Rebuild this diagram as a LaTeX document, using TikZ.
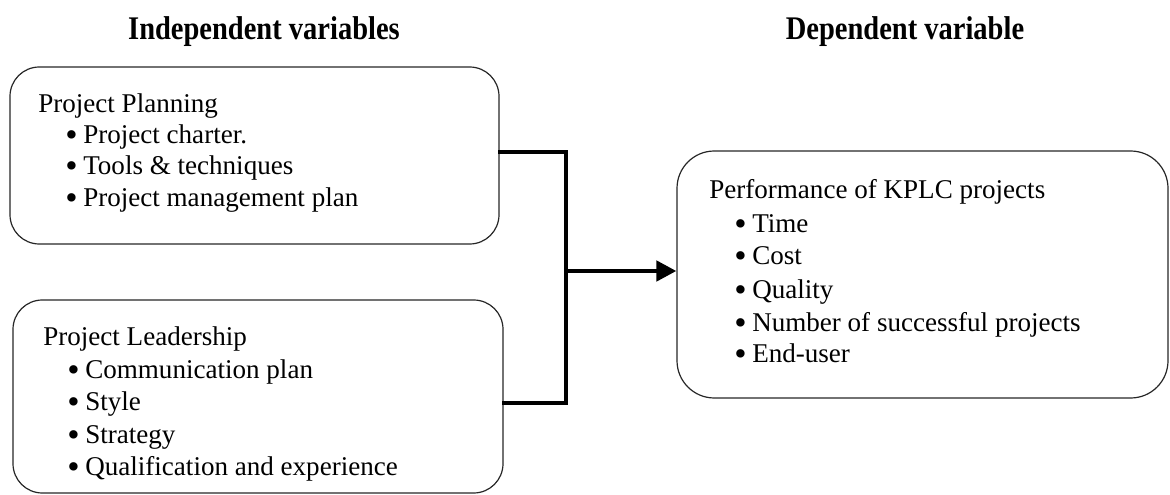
\documentclass[tikz,border=0pt]{standalone}
\usepackage{fontspec}
\setmainfont{Liberation Serif}
\usetikzlibrary{arrows.meta}
\tikzset{
  box/.style={draw=black!85, line width=0.9pt, rounded corners=22pt, inner sep=0pt},
  txt/.style={anchor=mid west, inner sep=0pt, font=\fontsize{20.3}{24}\selectfont},
  head/.style={anchor=mid, inner sep=0pt, font=\fontsize{22.5}{27}\selectfont\bfseries},
  conn/.style={line width=2.3pt, line cap=rect},
  arr/.style={line width=3.4pt, -{Triangle[length=15pt,width=15pt]}}
}
\newcommand{\bul}[1]{\makebox[13.5pt][l]{\smash{\raisebox{-2.3pt}{\scalebox{1.3}{\textbullet}}}}#1}
\begin{document}
\begin{tikzpicture}[x=0.75pt,y=-0.75pt]
\useasboundingbox (0,0) rectangle (1170,495);
% headers
\node[head, xscale=0.95, yscale=1.1] (h1) at (264,36) {Independent variables};
\node[head, xscale=0.95, yscale=1.1] (h2) at (905,36) {Dependent variable};
% boxes
\node[box, minimum width=366.75pt, minimum height=132.75pt] (b1) at (254.5,155.5) {};
\node[box, minimum width=367.5pt, minimum height=144.75pt] (b2) at (258,396.5) {};
\node[box, rounded corners=28pt, minimum width=368.25pt, minimum height=185.25pt] (b3) at (922.5,274.5) {};
% box 1 text
\node[txt] (t11) at (38,109) {Project Planning};
\node[txt] (t12) at (65,140) {\bul{Project charter.}};
\node[txt] (t13) at (65,171) {\bul{Tools \& techniques}};
\node[txt] (t14) at (65,203) {\bul{Project management plan}};
% box 2 text
\node[txt] (t21) at (43,342) {Project Leadership};
\node[txt] (t22) at (67,375) {\bul{Communication plan}};
\node[txt] (t23) at (67,407) {\bul{Style}};
\node[txt] (t24) at (67,440) {\bul{Strategy}};
\node[txt] (t25) at (67,472) {\bul{Qualification and experience}};
% box 3 text
\node[txt] (t31) at (709,195) {Performance of KPLC projects};
\node[txt] (t32) at (734,229) {\bul{Time}};
\node[txt] (t33) at (734,261) {\bul{Cost}};
\node[txt] (t34) at (734,295) {\bul{Quality}};
\node[txt] (t35) at (734,328) {\bul{Number of successful projects}};
\node[txt] (t36) at (734,359) {\bul{End-user}};
% connectors
\coordinate (j1) at (566,152);
\coordinate (j2) at (566,403);
\coordinate (jm) at (566,271);
\draw[conn] (b1.east |- j1) -- (j1) -- (j2) -- (b2.east |- j2);
\draw[arr] (jm) -- (b3.west |- jm);
\end{tikzpicture}
\end{document}
